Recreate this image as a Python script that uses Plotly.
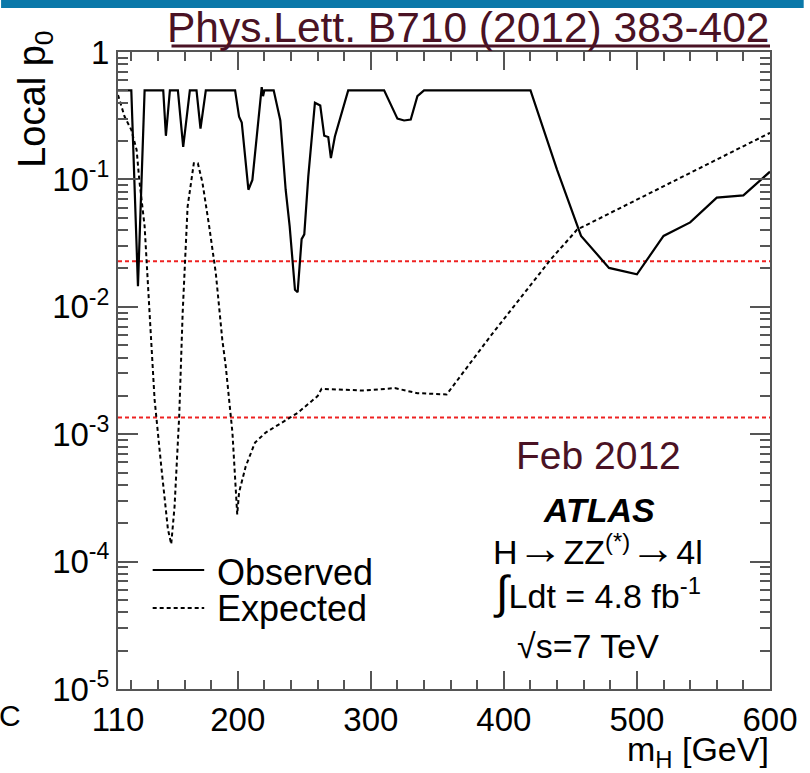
import plotly.graph_objects as go

# ---- data -------------------------------------------------------------
obs_mass = [110, 120, 125, 130, 144, 146, 149, 155, 159, 164, 169, 172, 176,
            198, 201, 203, 208, 211, 218, 219, 220, 227, 232, 236, 239, 243,
            245, 248, 250, 253, 258, 262, 265, 268, 270, 273, 283, 310, 320,
            325, 330, 335, 340, 420, 440, 458, 479, 500, 520, 540, 560, 580,
            600]
obs_p0 = [0.5, 0.5, 0.0145, 0.5, 0.5, 0.22, 0.5, 0.5, 0.18, 0.5, 0.5, 0.25,
          0.5, 0.5, 0.31, 0.28, 0.083, 0.099, 0.53, 0.45, 0.5, 0.5, 0.29,
          0.083, 0.043, 0.0136, 0.013, 0.034, 0.037, 0.105, 0.40, 0.38, 0.22,
          0.215, 0.147, 0.217, 0.5, 0.5, 0.30, 0.29, 0.295, 0.45, 0.5, 0.5,
          0.119, 0.036, 0.0202, 0.018, 0.036, 0.046, 0.072, 0.075, 0.115]

exp_mass = [110, 115, 120, 124, 126, 130, 134, 137.5, 142.5, 147.5, 150,
            152.5, 156, 158.6, 162.3, 167, 170, 173.5, 178.5, 183.5, 188.4,
            191, 196, 199.6, 201, 206, 213, 221, 233, 245, 260, 263, 295, 318,
            335, 357, 390, 435, 455, 600]
exp_p0 = [0.46, 0.31, 0.245, 0.17, 0.099, 0.043, 0.008, 0.00187, 5.6e-4,
          1.8e-4, 1.37e-4, 2.7e-4, 1.39e-3, 0.009, 0.061, 0.134, 0.134, 0.094,
          0.043, 0.0184, 0.0055, 0.0034, 1.03e-3, 2.35e-4, 3.5e-4, 5.6e-4,
          8.6e-4, 1.03e-3, 1.23e-3, 1.47e-3, 1.99e-3, 2.27e-3, 2.2e-3, 2.3e-3,
          2.1e-3, 2.05e-3, 5.9e-3, 0.0234, 0.0403, 0.232]

sigma_labels = ["2σ", "3σ"]
sigma_p0 = [0.02275, 0.00135]

x_tickvals = [110, 200, 300, 400, 500, 600]
x_ticktext = ["110", "200", "300", "400", "500", "600"]
y_tickvals = [1e-5, 1e-4, 1e-3, 1e-2, 1e-1, 1]
y_ticktext = ["10<sup>-5</sup>", "10<sup>-4</sup>", "10<sup>-3</sup>",
              "10<sup>-2</sup>", "10<sup>-1</sup>", "1"]

# ---- geometry helpers (pixel -> paper) --------------------------------
W, H = 810, 773
L, R, T, B = 118, 776, 52, 689


def px(x):
    return (x - L) / (R - L)


def py(y):
    return (B - y) / (B - T)


FONT = "Liberation Sans, Arial, Helvetica, sans-serif"
MAROON = "#4a1224"
AXIS = "#555555"

fig = go.Figure()

# significance reference lines
for lab, p in zip(sigma_labels, sigma_p0):
    fig.add_trace(go.Scatter(x=[x_tickvals[0], x_tickvals[-1]], y=[p, p],
                             mode="lines", showlegend=False, hoverinfo="skip",
                             line=dict(color="#ee2222", width=2,
                                       dash="4px,3px")))

fig.add_trace(go.Scatter(x=exp_mass, y=exp_p0, mode="lines", name="Expected",
                         showlegend=False,
                         line=dict(color="black", width=2, dash="4px,3px")))
fig.add_trace(go.Scatter(x=obs_mass, y=obs_p0, mode="lines", name="Observed",
                         showlegend=False,
                         line=dict(color="black", width=2.2)))

minor_x = [v for v in range(120, 600, 20) if v % 100 != 0]
minor_y = [k * 10.0 ** n for n in range(-5, 0) for k in range(2, 10)]

fig.update_xaxes(type="linear", range=[110, 600], tickvals=x_tickvals,
                 ticktext=x_ticktext, ticks="inside", ticklen=18,
                 tickwidth=1.5, tickcolor=AXIS, showline=True, linecolor=AXIS,
                 linewidth=2, mirror="allticks", showgrid=False,
                 zeroline=False,
                 tickfont=dict(family=FONT, size=33, color="black"),
                 minor=dict(tickvals=minor_x, ticks="inside", ticklen=9,
                            tickwidth=1.5, tickcolor=AXIS, showgrid=False))
fig.update_yaxes(type="log", range=[-5, 0], tickvals=y_tickvals,
                 ticktext=y_ticktext, ticks="inside", ticklen=20,
                 tickwidth=1.5, tickcolor=AXIS, showline=True, linecolor=AXIS,
                 linewidth=2, mirror="allticks", showgrid=False,
                 zeroline=False,
                 tickfont=dict(family=FONT, size=33, color="black"),
                 minor=dict(tickvals=minor_y, ticks="inside", ticklen=10,
                            tickwidth=1.5, tickcolor=AXIS, showgrid=False))

shapes = [
    # top banner strip
    dict(type="rect", xref="paper", yref="paper", x0=px(0), x1=px(W),
         y0=py(8), y1=py(0), fillcolor="#0a78a9", line=dict(width=0),
         layer="above"),
    # underline of reference header
    dict(type="line", xref="paper", yref="paper", x0=px(172), x1=px(776),
         y0=py(46), y1=py(46), line=dict(color=MAROON, width=3)),
    # legend samples
    dict(type="line", xref="paper", yref="paper", x0=px(153), x1=px(205),
         y0=py(570), y1=py(570), line=dict(color="black", width=2.2)),
    dict(type="line", xref="paper", yref="paper", x0=px(153), x1=px(205),
         y0=py(608), y1=py(608),
         line=dict(color="black", width=2, dash="4px,3px")),
]


def note(text, x, y, size, color="black", xanchor="center", **kw):
    return dict(text=text, x=px(x), y=py(y), xref="paper", yref="paper",
                xanchor=xanchor, yanchor="middle", showarrow=False,
                font=dict(family=FONT, size=size, color=color), **kw)


ARROW = "<span style='font-size:46px'>→</span>"

annotations = [
    note("Phys.Lett. B710 (2012) 383-402", 778, 27, 42.5, MAROON,
         xanchor="right"),
    note("Local p<sub>0</sub>", 34, 99, 38, textangle=-90),
    note("m<sub>H</sub> [GeV]", 777, 751, 34, xanchor="right"),
    note("Observed", 216, 572, 36, xanchor="left"),
    note("Expected", 216, 608, 36, xanchor="left"),
    note("Feb 2012", 603, 456, 39, MAROON),
    note("<b><i>ATLAS</i></b>", 603, 510, 34),
    note("H" + ARROW + "ZZ<sup>(*)</sup>" + ARROW + "4l", 602, 548, 34),
    note("<span style='font-size:46px'>∫</span>Ldt = 4.8 fb<sup>-1</sup>",
         601, 592, 34),
    note("√s=7 TeV", 592, 646, 34),
    note("C", 9, 715, 30),
]
for lab, p in zip(sigma_labels, sigma_p0):
    annotations.append(dict(text=lab, x=1.0, y=p, xref="paper", yref="y",
                            xanchor="left", yanchor="middle", xshift=5,
                            showarrow=False,
                            font=dict(family=FONT, size=25, color="black")))

fig.update_layout(width=W, height=H, autosize=False,
                  margin=dict(l=L, r=W - R, t=T, b=H - B, pad=0),
                  paper_bgcolor="white", plot_bgcolor="white",
                  shapes=shapes, annotations=annotations, showlegend=False)

fig.write_html("out.html")
